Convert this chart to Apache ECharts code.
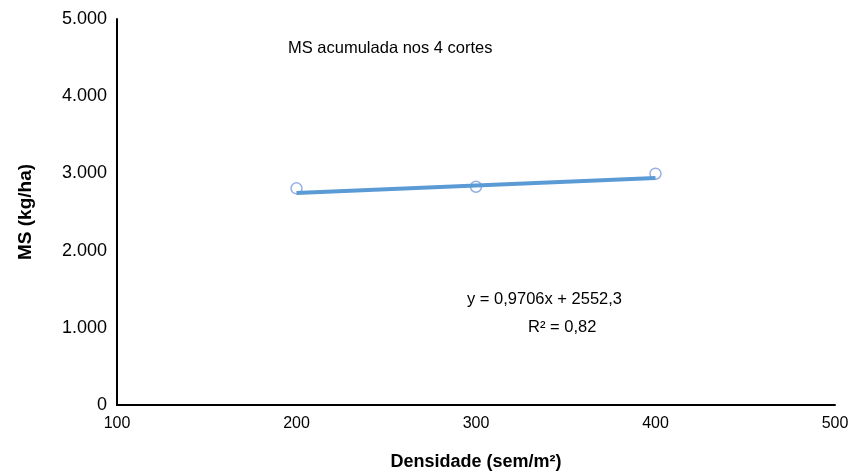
<!DOCTYPE html>
<html>
<head>
<meta charset="utf-8">
<script src="https://cdn.jsdelivr.net/npm/echarts@6/dist/echarts.min.js"></script>
<style>
  html, body { margin: 0; padding: 0; background: #fff; }
  #chart { width: 848px; height: 472px; }
</style>
</head>
<body>
<div id="chart"></div>
<script>
var densidade = [200, 300, 400]
var msAcumulada = [2807, 2827, 2996]
// linha de tendência
var trendX = [200, 400]
var trendY = [2746, 2941]

var myChart = echarts.init(document.getElementById('chart'))
var font = 'Liberation Sans, Arial, sans-serif'

function fmt(v) {
  if (v === 0) return '0'
  return (v / 1000).toFixed(3)
}

var option = {
  animation: false,
  grid: { left: 117, right: 13, top: 19, bottom: 67, outerBoundsMode: 'none', containLabel: false },
  xAxis: {
    type: 'value',
    min: 100,
    max: 500,
    interval: 100,
    name: 'Densidade (sem/m²)',
    nameLocation: 'middle',
    nameGap: 48,
    nameTextStyle: { color: '#000', fontSize: 18, fontWeight: 'bold', fontFamily: font },
    axisLine: { lineStyle: { color: '#000', width: 2 } },
    axisTick: { show: false },
    splitLine: { show: false },
    axisLabel: { color: '#000', fontSize: 16, fontFamily: font, margin: 11 }
  },
  yAxis: {
    type: 'value',
    min: 0,
    max: 5000,
    interval: 1000,
    name: 'MS (kg/ha)',
    nameLocation: 'middle',
    nameGap: 82,
    nameRotate: 90,
    nameTextStyle: { color: '#000', fontSize: 19, fontWeight: 'bold', fontFamily: font },
    axisLine: { show: true, lineStyle: { color: '#000', width: 2 } },
    axisTick: { show: false },
    splitLine: { show: false },
    axisLabel: {
      color: '#000', fontSize: 18, fontFamily: font, margin: 10,
      formatter: fmt
    }
  },
  graphic: [
    { type: 'text', left: 288, top: 40, style: { text: 'MS acumulada nos 4 cortes', fill: '#000', font: '16.5px ' + font } },
    { type: 'text', left: 467, top: 291, style: { text: 'y = 0,9706x + 2552,3', fill: '#000', font: '16.5px ' + font } },
    { type: 'text', left: 528, top: 319, style: { text: 'R² = 0,82', fill: '#000', font: '16.5px ' + font } }
  ],
  series: [
    {
      name: 'MS',
      type: 'scatter',
      symbol: 'circle',
      symbolSize: 11,
      itemStyle: { color: 'rgba(255,255,255,0)', borderColor: '#7b9be0', borderWidth: 1.5 },
      data: densidade.map(function(x, i) { return [x, msAcumulada[i]] }),
      z: 2
    },
    {
      name: 'Tendência',
      type: 'line',
      showSymbol: false,
      lineStyle: { color: '#5b9bd5', width: 4 },
      data: trendX.map(function(x, i) { return [x, trendY[i]] }),
      z: 3
    }
  ]
}
myChart.setOption(option)
</script>
</body>
</html>
